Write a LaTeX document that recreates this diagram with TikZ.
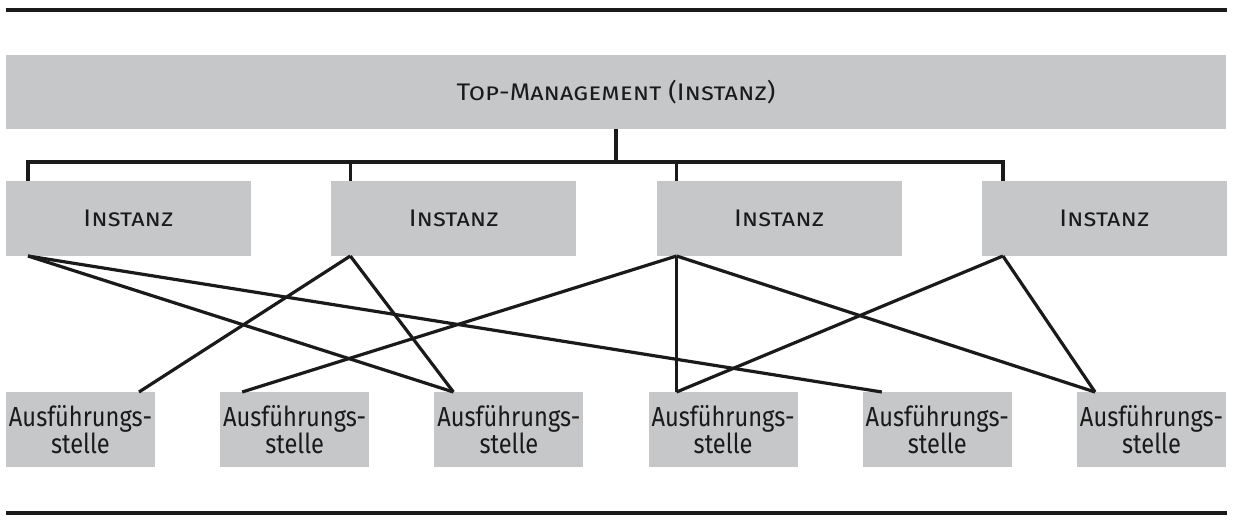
\documentclass[tikz,border=0pt]{standalone}
\usepackage{fontspec}
\setmainfont{Fira Sans}[FakeStretch=0.86]
\newfontfamily\capsfont{Fira Sans}[FakeStretch=1.1]
\usetikzlibrary{positioning}
\definecolor{boxgray}{RGB}{198,199,201}
\definecolor{linecol}{RGB}{26,26,26}

\begin{document}
\begin{tikzpicture}[x=1pt, y=1pt,
  box/.style = {fill=boxgray, inner sep=0pt, outer sep=0pt, text=linecol},
  instanz/.style = {box, minimum width=245pt, minimum height=75pt,
    font=\capsfont\fontsize{24}{28}\selectfont\scshape},
  stelle/.style = {box, minimum width=149pt, minimum height=75pt,
    align=center, font=\fontsize{27.5}{27.5}\selectfont},
  link/.style = {line width=3.2pt, draw=linecol}]
\useasboundingbox (0,0) rectangle (1238,522);

% rules above and below
\coordinate (ra) at (6,512);
\coordinate (rb) at (1227,512);
\coordinate (rc) at (6,9);
\coordinate (rd) at (1227,9);
\draw[link] (ra) -- (rb);
\draw[link] (rc) -- (rd);

\node[box, minimum width=1220pt, minimum height=74pt,
  font=\capsfont\fontsize{24}{28}\selectfont\scshape] (top) at (616,430) {Top-Management (Instanz)};

% second level
\node[instanz, below right = 52pt and 0pt of top.south west] (i1) {Instanz};
\node[instanz, right = 80.3pt of i1] (i2) {Instanz};
\node[instanz, right = 80.3pt of i2] (i3) {Instanz};
\node[instanz, right = 80.3pt of i3] (i4) {Instanz};

% third level
\node[stelle, below right = 136pt and 0pt of i1.south west] (a1) {Ausführungs-\\stelle};
\node[stelle, right = 65.2pt of a1] (a2) {Ausführungs-\\stelle};
\node[stelle, right = 65.2pt of a2] (a3) {Ausführungs-\\stelle};
\node[stelle, right = 65.2pt of a3] (a4) {Ausführungs-\\stelle};
\node[stelle, right = 65.2pt of a4] (a5) {Ausführungs-\\stelle};
\node[stelle, right = 65.2pt of a5] (a6) {Ausführungs-\\stelle};

% bus
\foreach \i/\dx in {1/22,2/19,3/20,4/21} {
  \coordinate (t\i) at ([xshift=\dx pt]i\i.north west);
  \coordinate (b\i) at ([xshift=\dx pt]i\i.south west);
}
\coordinate (bus) at (0,360);
\draw[link] (top.south) -- (top.south |- bus);
\draw[link] (t1) |- (t4 |- bus) -- (t4);
\foreach \i in {2,3} \draw[link] (t\i |- bus) -- (t\i);

% crossing lines
\foreach \j/\dx in {1/133,2/22,3/19,5/19,6/18}
  \coordinate (e\j) at ([xshift=\dx pt]a\j.north west);
\coordinate (e4) at (b3 |- a4.north);
\foreach \from/\to in {1/3,1/5,2/1,2/3,3/2,3/4,3/6,4/4,4/6}
  \draw[link] (b\from) -- (e\to);

\end{tikzpicture}
\end{document}
